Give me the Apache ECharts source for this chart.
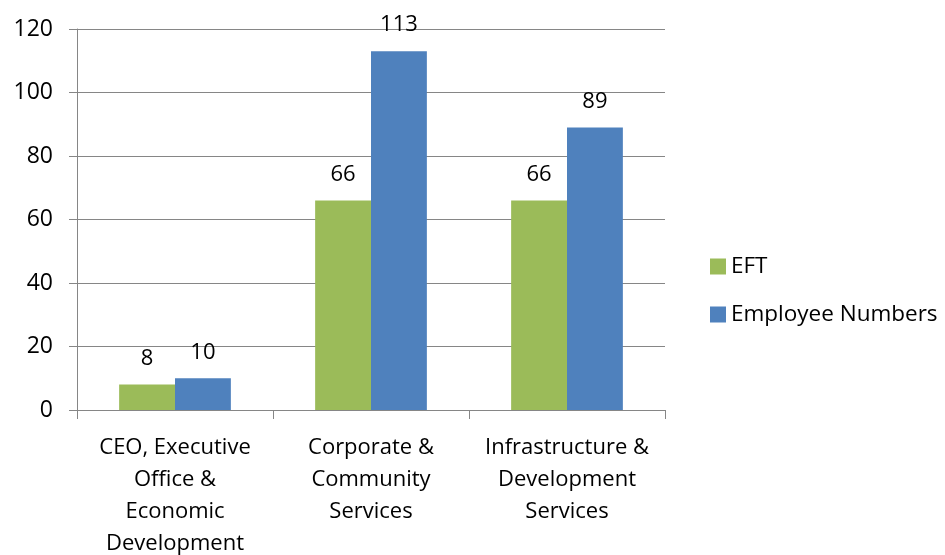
<!DOCTYPE html>
<html>
<head>
<meta charset="utf-8">
<style>
  html, body { margin: 0; padding: 0; background: #ffffff; overflow: hidden; }
  #chart { width: 945px; height: 555px; }
</style>
<script src="https://cdn.jsdelivr.net/npm/echarts@6/dist/echarts.min.js"></script>
</head>
<body>
<div id="chart"></div>
<script>
// Staff numbers by directorate
const categories = [
  'CEO, Executive\nOffice &\nEconomic\nDevelopment',
  'Corporate &\nCommunity\nServices',
  'Infrastructure &\nDevelopment\nServices'
];
const eftValues = [8, 66, 66];
const employeeValues = [10, 113, 89];
const seriesNames = ['EFT', 'Employee Numbers'];

const FONT = '"Open Sans", Lato, sans-serif';
const AXIS_GREY = '#868686';

const chart = echarts.init(document.getElementById('chart'), null, { renderer: 'canvas' });

const valueLabel = {
  show: true,
  position: 'top',
  distance: 15,
  color: '#000000',
  fontFamily: FONT,
  fontSize: 22
};

chart.setOption({
  animation: false,
  backgroundColor: '#ffffff',
  grid: {
    left: 77, right: 280, top: 29, bottom: 145,
    containLabel: false,
    outerBoundsMode: 'none'
  },
  legend: {
    orient: 'vertical',
    left: 705,
    top: 250,
    itemWidth: 16,
    itemHeight: 16,
    itemGap: 25,
    icon: 'rect',
    textStyle: { fontFamily: FONT, fontSize: 22.5, color: '#000000', padding: [0, 0, 0, 0] },
    data: seriesNames
  },
  xAxis: {
    type: 'category',
    data: categories,
    axisLine: { lineStyle: { color: AXIS_GREY, width: 1 } },
    axisTick: { show: true, length: 9, lineStyle: { color: AXIS_GREY } },
    axisLabel: {
      interval: 0,
      margin: 22,
      color: '#000000',
      fontFamily: FONT,
      fontSize: 22,
      lineHeight: 32
    }
  },
  yAxis: {
    type: 'value',
    min: 0,
    max: 120,
    interval: 20,
    axisLine: { show: true, lineStyle: { color: AXIS_GREY, width: 1 } },
    axisTick: { show: true, length: 8, lineStyle: { color: AXIS_GREY } },
    splitLine: { show: true, lineStyle: { color: AXIS_GREY, width: 1 } },
    axisLabel: {
      margin: 24,
      color: '#000000',
      fontFamily: FONT,
      fontSize: 23
    }
  },
  series: [
    {
      name: seriesNames[0],
      type: 'bar',
      data: eftValues,
      itemStyle: { color: '#9BBB59' },
      barGap: '0%',
      barCategoryGap: '43%',
      label: valueLabel
    },
    {
      name: seriesNames[1],
      type: 'bar',
      data: employeeValues,
      itemStyle: { color: '#4F81BD' },
      barGap: '0%',
      barCategoryGap: '43%',
      label: valueLabel
    }
  ]
});
</script>
</body>
</html>
